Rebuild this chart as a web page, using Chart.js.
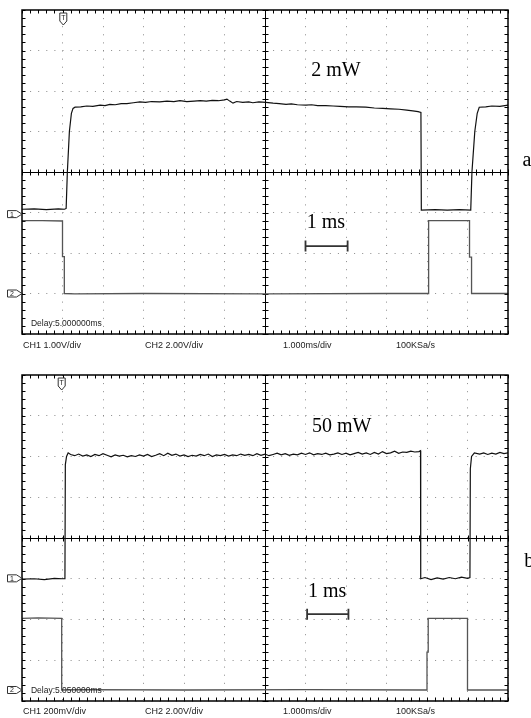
<!DOCTYPE html>
<html>
<head>
<meta charset="utf-8">
<script src="https://cdn.jsdelivr.net/npm/chart.js@4.4.0/dist/chart.umd.min.js"></script>
<style>
html, body { margin: 0; padding: 0; background: #fff; }
body { width: 531px; height: 718px; position: relative; overflow: hidden; }
canvas { position: absolute; left: 0; }
</style>
</head>
<body>
<canvas id="scopeA" width="531" height="359" style="top:0"></canvas>
<canvas id="scopeB" width="531" height="359" style="top:359px"></canvas>
<script>
// x = time in divisions (1 div = 1 ms, 0 = left edge), y = divisions from screen centre

// --- a) 2 mW ---
const tA1 = [0, 0.3, 0.6, 0.9, 1.05, 1.09, 1.12, 1.17, 1.22, 1.26, 1.31, 1.45, 1.6, 1.75, 1.93, 2.05, 2.17, 2.3, 2.45, 2.59,
  2.75, 2.91, 3.05, 3.2, 3.4, 3.58, 3.75, 3.9, 4.07, 4.25, 4.4, 4.55, 4.7, 4.85, 5.0, 5.06, 5.13, 5.21, 5.3, 5.45,
  5.6, 5.7, 5.85, 6.02, 6.2, 6.35, 6.52, 6.65, 6.8, 7.01, 7.15, 7.3, 7.5, 7.68, 7.85, 8.07, 8.25, 8.49, 8.7, 8.91,
  9.1, 9.31, 9.5, 9.65, 9.78, 9.85, 9.86, 10.2, 10.5, 10.8, 11.08, 11.11, 11.18, 11.24, 11.29, 11.45, 11.6, 11.8, 12];
const vA1 = [-0.92, -0.91, -0.93, -0.91, -0.92, -0.9, 0.0, 1.0, 1.45, 1.57, 1.6, 1.61, 1.63, 1.62, 1.65, 1.64, 1.67, 1.66, 1.69, 1.69,
  1.71, 1.73, 1.72, 1.74, 1.73, 1.75, 1.74, 1.76, 1.74, 1.75, 1.76, 1.75, 1.77, 1.76, 1.78, 1.8, 1.75, 1.7, 1.74, 1.72,
  1.73, 1.71, 1.73, 1.72, 1.7, 1.69, 1.67, 1.68, 1.66, 1.65, 1.66, 1.64, 1.64, 1.63, 1.62, 1.61, 1.61, 1.6, 1.58, 1.57,
  1.56, 1.55, 1.53, 1.51, 1.49, 1.47, -0.94, -0.93, -0.94, -0.93, -0.94, 0.0, 1.0, 1.45, 1.6, 1.61, 1.63, 1.62, 1.65];
const tA2 = [0, 0.5, 1.0, 1.0, 1.045, 1.045, 1.3, 3.0, 6.0, 9.0, 10.04, 10.04, 11.05, 11.05, 11.1, 11.1, 12];
const vA2 = [-1.2, -1.2, -1.21, -2.09, -2.09, -3.0, -3.01, -3.0, -3.01, -3.0, -3.0, -1.2, -1.2, -2.1, -2.1, -3.0, -3.0];

// --- b) 50 mW ---
const tB1 = [0, 0.3, 0.55, 0.8, 1.0, 1.06, 1.07, 1.1, 1.14, 1.2, 1.3, 1.4, 1.5, 1.6, 1.7, 1.8, 1.9, 2.0, 2.1, 2.2,
  2.3, 2.4, 2.5, 2.6, 2.7, 2.8, 2.9, 3.0, 3.1, 3.2, 3.3, 3.4, 3.5, 3.6, 3.7, 3.8, 3.9, 4.0, 4.1, 4.2,
  4.3, 4.4, 4.5, 4.6, 4.7, 4.8, 4.9, 5.0, 5.1, 5.2, 5.3, 5.4, 5.5, 5.6, 5.7, 5.8, 5.9, 6.0, 6.1, 6.2,
  6.3, 6.4, 6.5, 6.6, 6.7, 6.8, 6.9, 7.0, 7.1, 7.2, 7.3, 7.4, 7.5, 7.6, 7.7, 7.8, 7.9, 8.0, 8.1, 8.2,
  8.3, 8.4, 8.5, 8.6, 8.7, 8.8, 8.9, 9.0, 9.1, 9.2, 9.3, 9.4, 9.5, 9.6, 9.7, 9.8, 9.84, 9.845, 9.95, 10.1,
  10.25, 10.4, 10.55, 10.7, 10.85, 11.0, 11.06, 11.07, 11.1, 11.17, 11.3, 11.4, 11.5, 11.6, 11.7, 11.8, 11.9, 12];
const vB1 = [-1.01, -1.0, -1.02, -0.99, -1.0, -1.0, 1.8, 2.0, 2.09, 2.05, 2.02, 2.06, 2.01, 2.04, 2.0, 2.05, 2.02, 2.07, 2.03, 1.99,
  2.04, 2.01, 2.03, 1.99, 2.02, 2.0, 2.04, 2.01, 2.05, 2.0, 2.03, 2.07, 2.02, 2.08, 2.03, 2.06, 2.01, 2.04, 2.0, 2.03,
  2.01, 2.05, 2.02, 2.06, 2.0, 2.04, 2.02, 2.05, 2.01, 2.04, 2.02, 2.06, 2.03, 2.05, 2.02, 2.07, 2.03, 2.06, 2.02, 2.05,
  2.08, 2.04, 2.07, 2.03, 2.06, 2.04, 2.08, 2.05, 2.09, 2.04, 2.07, 2.05, 2.08, 2.04, 2.06, 2.09, 2.05, 2.08, 2.04, 2.07,
  2.1, 2.06, 2.09, 2.05, 2.1, 2.06, 2.12, 2.07, 2.09, 2.13, 2.08, 2.11, 2.1, 2.13, 2.11, 2.12, 2.14, -1.0, -0.97, -1.02,
  -0.98, -1.01, -0.97, -1.0, -0.96, -0.99, -0.97, 1.7, 2.0, 2.09, 2.06, 2.09, 2.05, 2.08, 2.06, 2.1, 2.07, 2.09];
const tB2 = [0, 0.4, 0.98, 0.98, 1.5, 4.0, 7.0, 10.0, 10.0, 10.03, 10.03, 11.0, 11.0, 12];
const vB2 = [-1.97, -1.96, -1.97, -3.73, -3.72, -3.73, -3.72, -3.73, -2.8, -2.8, -1.97, -1.97, -3.73, -3.73];

// scope readouts
const readoutA = ['CH1 1.00V/div', 'CH2 2.00V/div', '1.000ms/div', '100KSa/s'];
const readoutB = ['CH1 200mV/div', 'CH2 2.00V/div', '1.000ms/div', '100KSa/s'];
const readoutX = [23, 145, 283, 396];

function pts(t, v) {
  return t.map((x, i) => ({ x: x, y: v[i] }));
}

function marker(ctx, x, y, label, dir) {
  ctx.beginPath();
  if (dir === 'right') {
    ctx.moveTo(x - 14.5, y - 3.5);
    ctx.lineTo(x - 5.5, y - 3.5);
    ctx.lineTo(x, y);
    ctx.lineTo(x - 5.5, y + 3.5);
    ctx.lineTo(x - 14.5, y + 3.5);
  } else {
    ctx.moveTo(x - 3.5, y);
    ctx.lineTo(x + 3.5, y);
    ctx.lineTo(x + 3.5, y + 8);
    ctx.lineTo(x, y + 12);
    ctx.lineTo(x - 3.5, y + 8);
  }
  ctx.closePath();
  ctx.fillStyle = '#fff';
  ctx.fill();
  ctx.lineWidth = 1;
  ctx.strokeStyle = '#333';
  ctx.stroke();
  ctx.fillStyle = '#222';
  ctx.font = '7px "Liberation Sans"';
  ctx.textAlign = 'center';
  ctx.textBaseline = 'middle';
  if (dir === 'right') ctx.fillText(label, x - 10, y + 0.5);
  else ctx.fillText(label, x, y + 5);
}

function scopeFrame(cfg) {
  return {
    id: 'scopeFrame',
    beforeDatasetsDraw(chart) {
      const { ctx, chartArea: a, scales: { x, y } } = chart;
      const cx = Math.round(x.getPixelForValue(6)) + 0.5;
      const cy = Math.round(y.getPixelForValue(0)) + 0.5;
      ctx.save();
      ctx.strokeStyle = '#000';
      ctx.lineWidth = 1;
      ctx.beginPath();
      ctx.moveTo(cx, a.top); ctx.lineTo(cx, a.bottom);
      ctx.moveTo(a.left, cy); ctx.lineTo(a.right, cy);
      for (let i = 0; i <= 60; i++) {
        const px = Math.round(x.getPixelForValue(i / 5)) + 0.5;
        ctx.moveTo(px, a.top); ctx.lineTo(px, a.top + 3.5);
        ctx.moveTo(px, a.bottom); ctx.lineTo(px, a.bottom - 3.5);
        ctx.moveTo(px, cy - 3); ctx.lineTo(px, cy + 3);
      }
      for (let j = 0; j <= 40; j++) {
        const py = Math.round(y.getPixelForValue(-4 + j / 5)) + 0.5;
        ctx.moveTo(a.left, py); ctx.lineTo(a.left + 3.5, py);
        ctx.moveTo(a.right, py); ctx.lineTo(a.right - 3.5, py);
        ctx.moveTo(cx - 3, py); ctx.lineTo(cx + 3, py);
      }
      ctx.stroke();
      ctx.restore();
    },
    afterDatasetsDraw(chart) {
      const { ctx, chartArea: a, scales: { x, y } } = chart;
      ctx.save();
      ctx.strokeStyle = '#000';
      ctx.lineWidth = 1.5;
      ctx.strokeRect(a.left, a.top, a.right - a.left, a.bottom - a.top);

      // trigger + channel ground markers
      marker(ctx, x.getPixelForValue(cfg.trig), a.top + 3, 'T', 'down');
      marker(ctx, a.left, y.getPixelForValue(cfg.gnd1), '1', 'right');
      marker(ctx, a.left, y.getPixelForValue(cfg.gnd2), '2', 'right');

      // delay readout
      ctx.fillStyle = '#222';
      ctx.font = '8.5px "Liberation Sans"';
      ctx.textAlign = 'left';
      ctx.textBaseline = 'middle';
      ctx.fillText(cfg.delay, x.getPixelForValue(0.22), y.getPixelForValue(-3.75));

      // bottom readouts
      ctx.font = '9px "Liberation Sans"';
      cfg.readout.forEach((s, i) => ctx.fillText(s, readoutX[i], a.bottom + cfg.readGap));

      // annotations
      ctx.fillStyle = '#000';
      ctx.font = '20px "Liberation Serif"';
      ctx.textBaseline = 'alphabetic';
      ctx.fillText(cfg.power, x.getPixelForValue(cfg.powerPos[0]), y.getPixelForValue(cfg.powerPos[1]));
      ctx.fillText('1 ms', x.getPixelForValue(cfg.msPos[0]), y.getPixelForValue(cfg.msPos[1]));
      ctx.fillText(cfg.letter, x.getPixelForValue(cfg.letterPos[0]), y.getPixelForValue(cfg.letterPos[1]));

      // 1 ms scale bar
      const bx0 = x.getPixelForValue(cfg.bar[0]);
      const bx1 = x.getPixelForValue(cfg.bar[1]);
      const by = y.getPixelForValue(cfg.bar[2]);
      ctx.lineWidth = 1.8;
      ctx.beginPath();
      ctx.moveTo(bx0, by); ctx.lineTo(bx1, by);
      ctx.moveTo(bx0, by - 5.5); ctx.lineTo(bx0, by + 5.5);
      ctx.moveTo(bx1, by - 5.5); ctx.lineTo(bx1, by + 5.5);
      ctx.stroke();
      ctx.restore();
    }
  };
}

function makeScope(id, ch1, ch2, pad, cfg) {
  const ctx = document.getElementById(id).getContext('2d');
  return new Chart(ctx, {
    type: 'scatter',
    data: {
      datasets: [
        { data: ch2, showLine: true, borderColor: '#555', borderWidth: 1.3, pointRadius: 0, tension: 0 },
        { data: ch1, showLine: true, borderColor: '#111', borderWidth: 1.2, pointRadius: 0, tension: 0 }
      ]
    },
    options: {
      responsive: false,
      animation: false,
      events: [],
      layout: { padding: pad },
      plugins: { legend: { display: false }, tooltip: { enabled: false } },
      scales: {
        x: {
          type: 'linear', min: 0, max: 12,
          ticks: { display: false, stepSize: 1 },
          grid: { color: '#8a8a8a', lineWidth: 1, drawTicks: false },
          border: { display: false, dash: [1, 7.1] }
        },
        y: {
          type: 'linear', min: -4, max: 4,
          ticks: { display: false, stepSize: 1 },
          grid: { color: '#8a8a8a', lineWidth: 1, drawTicks: false },
          border: { display: false, dash: [1, 7.1] }
        }
      }
    },
    plugins: [scopeFrame(cfg)]
  });
}

makeScope('scopeA', pts(tA1, vA1), pts(tA2, vA2),
  { left: 22, right: 23, top: 10, bottom: 25 },
  {
    trig: 1.02, gnd1: -1.04, gnd2: -3.0, delay: 'Delay:5.000000ms', readout: readoutA, readGap: 12,
    power: '2 mW', powerPos: [7.14, 2.37], msPos: [7.03, -1.39], letter: 'a', letterPos: [12.36, 0.16],
    bar: [7.0, 8.04, -1.83]
  });

makeScope('scopeB', pts(tB1, vB1), pts(tB2, vB2),
  { left: 22, right: 23, top: 16, bottom: 17 },
  {
    trig: 0.98, gnd1: -0.99, gnd2: -3.73, delay: 'Delay:5.050000ms', readout: readoutB, readGap: 11,
    power: '50 mW', powerPos: [7.16, 2.61], msPos: [7.06, -1.46], letter: 'b', letterPos: [12.4, -0.70],
    bar: [7.04, 8.06, -1.87]
  });
</script>
</body>
</html>
